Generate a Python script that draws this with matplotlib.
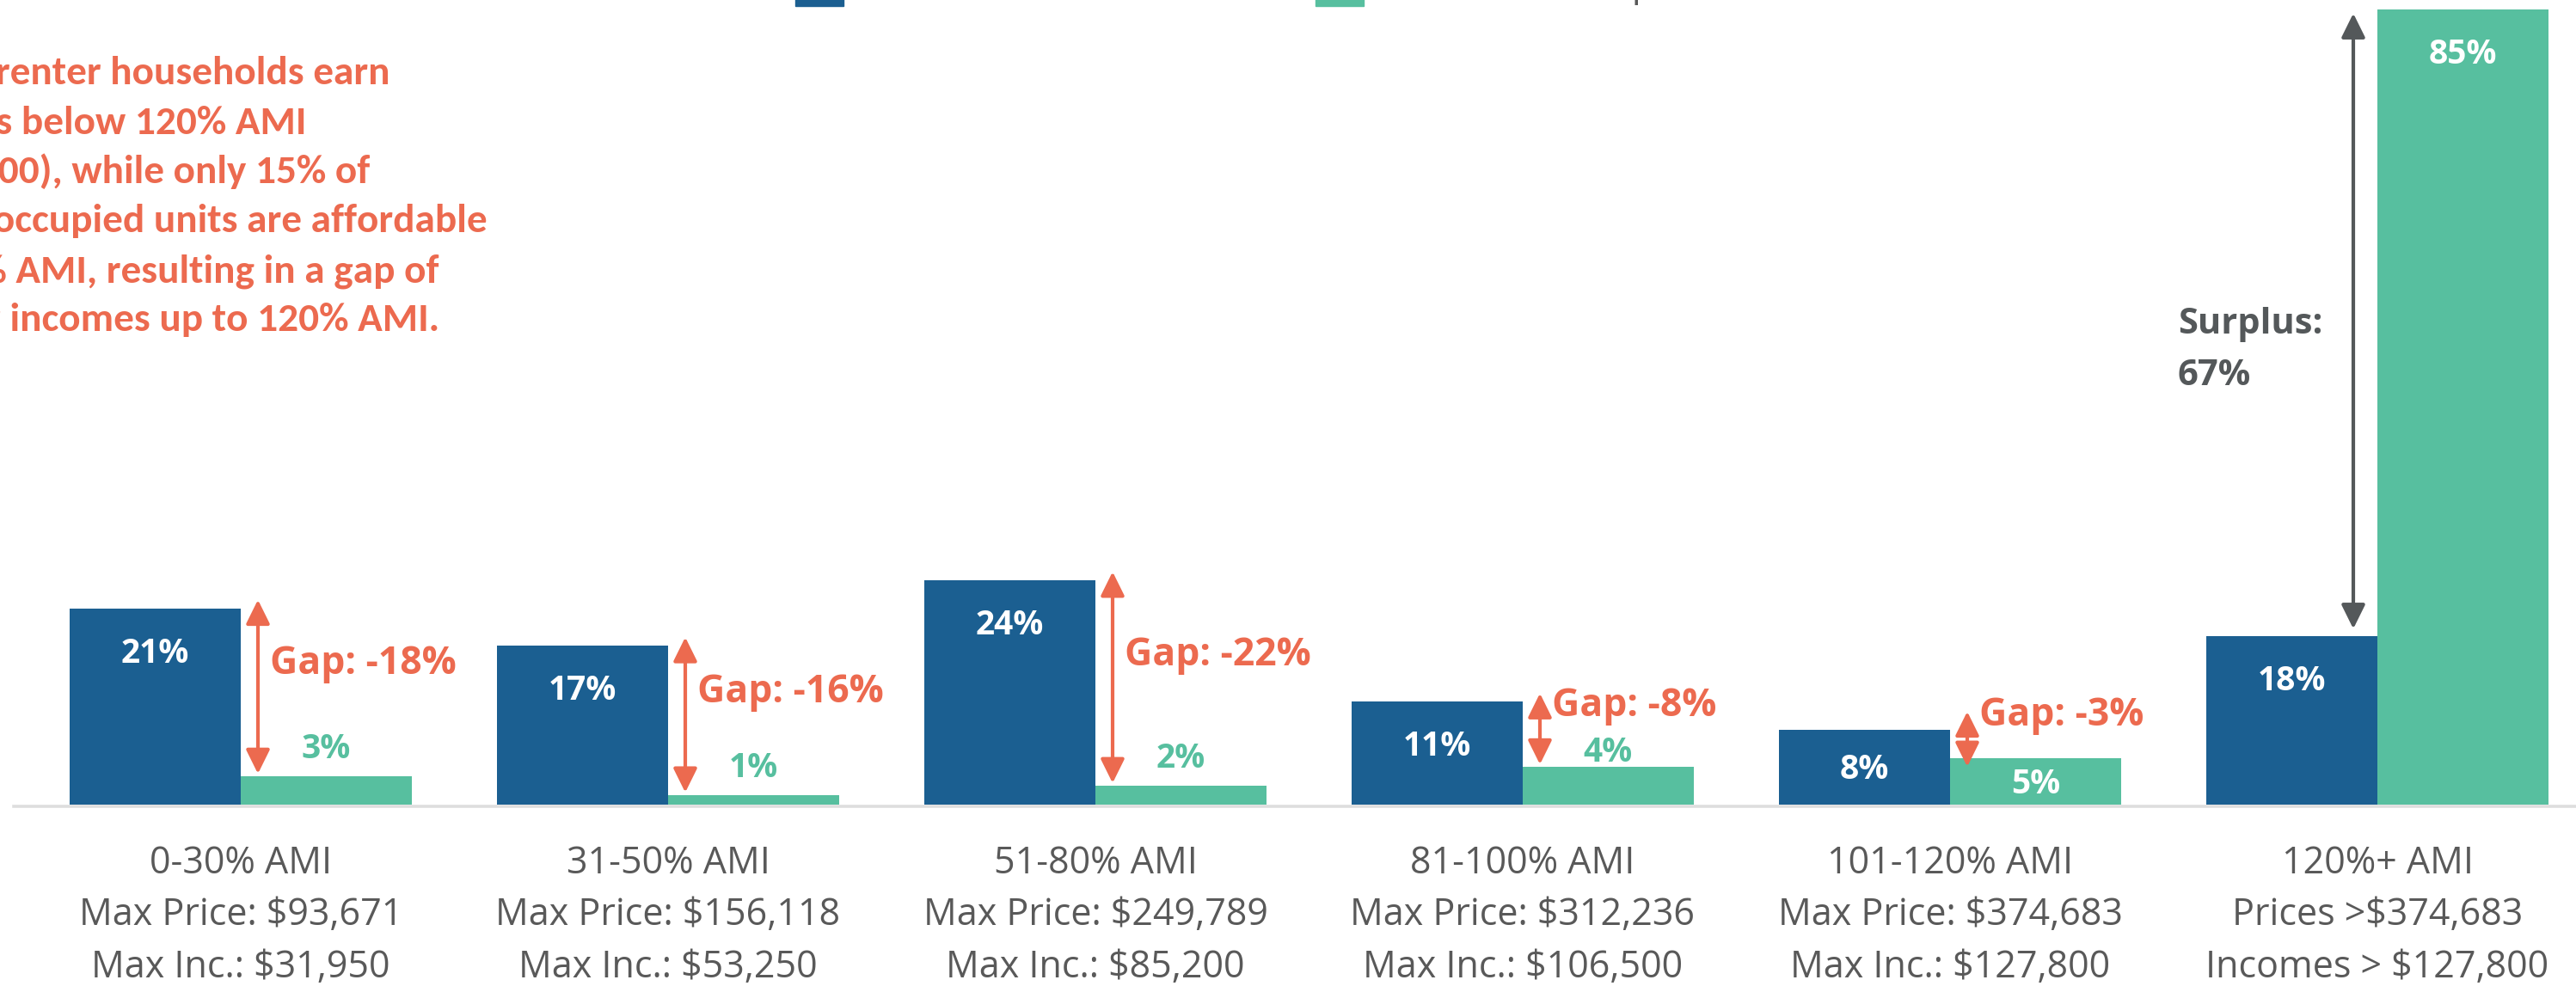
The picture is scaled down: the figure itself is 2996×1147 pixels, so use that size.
import matplotlib
matplotlib.use("Agg")
import matplotlib.pyplot as plt
from matplotlib.patches import Rectangle
import numpy as np

# ---- data ----
categories = ["0-30% AMI", "31-50% AMI", "51-80% AMI", "81-100% AMI", "101-120% AMI", "120%+ AMI"]
price_lines = ["Max Price: $93,671", "Max Price: $156,118", "Max Price: $249,789",
               "Max Price: $312,236", "Max Price: $374,683", "Prices >$374,683"]
income_lines = ["Max Inc.: $31,950", "Max Inc.: $53,250", "Max Inc.: $85,200",
                "Max Inc.: $106,500", "Max Inc.: $127,800", "Incomes > $127,800"]
renters = [21, 17, 24, 11, 8, 18]      # share of renter households
units = [3, 1, 2, 4, 5, 85]            # share of units affordable
gaps = [-18, -16, -22, -8, -3]         # printed gap labels
surplus = 67
legend_labels = ["Renter Households", "Owner-Occupied Units"]
note_lines = ["81% of renter households earn",
              "incomes below 120% AMI",
              "($127,800), while only 15% of",
              "owner-occupied units are affordable",
              "at 120% AMI, resulting in a gap of",
              "66% for incomes up to 120% AMI."]

BLUE = "#1b5f91"
GREEN = "#57bf9f"
CORAL = "#ec6a4f"
GREY = "#595959"
DARK = "#54585a"
FONT = "Open Sans"

W, H = 2996, 1147
fig = plt.figure(figsize=(W / 100, H / 100), dpi=100)
ax = fig.add_axes([0, 0, 1, 1])
ax.axis("off")

# pixel scale of the original layout
PX_X = 497.0   # pixels per category
X0 = 280.0     # pixel x of first category centre
PX_Y = 10.88   # pixels per percent
BASE = 936.0   # pixel row of the zero line
ax.set_xlim(-X0 / PX_X, (W - X0) / PX_X)
ax.set_ylim(-(H - BASE) / PX_Y, BASE / PX_Y)

x = np.arange(len(categories))
bw = 0.4
ax.bar(x - bw / 2, renters, bw, color=BLUE, zorder=2)
ax.bar(x + bw / 2, units, bw, color=GREEN, zorder=2)
ax.plot([-(X0 - 16) / PX_X, (W - X0) / PX_X], [-0.15, -0.15], color="#dedede", lw=2.6, zorder=1)

def inside_y(v):
    return max(v - 49 / PX_Y, v / 2)

def gap_y(i):
    return (renters[i] + units[i]) / 2 + 3.4

# value labels
for i in range(len(categories)):
    ax.annotate(f"{renters[i]}%", (x[i] - bw / 2, inside_y(renters[i])), xytext=(0, -14),
                textcoords="offset pixels", ha="center", va="baseline",
                color="white", fontsize=28, fontweight="bold", family=FONT, zorder=4)
    if units[i] < 5:
        lift = 21
        # keep clear of the gap label above it
        if i < len(gaps) and (gap_y(i) - units[i]) * PX_Y - 16 - 12 < lift + 28:
            lift = 6
        ax.annotate(f"{units[i]}%", (x[i] + bw / 2, units[i]), xytext=(0, lift),
                    textcoords="offset pixels", ha="center", va="baseline",
                    color=GREEN, fontsize=28, fontweight="bold", family=FONT, zorder=4)
    else:
        ax.annotate(f"{units[i]}%", (x[i] + bw / 2, inside_y(units[i])), xytext=(0, -14),
                    textcoords="offset pixels", ha="center", va="baseline",
                    color="white", fontsize=28, fontweight="bold", family=FONT, zorder=4)

    # category labels below the line
    for txt, off in zip([categories[i], price_lines[i], income_lines[i]], [80, 140, 201]):
        ax.annotate(txt, (x[i], 0), xytext=(0, -off), textcoords="offset pixels",
                    ha="center", va="baseline", color=GREY, fontsize=31, family=FONT)

arrow_style = "<|-|>,head_length=0.85,head_width=0.42"

# gap arrows
for i, g in enumerate(gaps):
    top = renters[i] + 0.9
    bot = units[i] + 0.3
    if top - bot < 5.9:
        mid = (renters[i] + units[i]) / 2 + 0.5
        top, bot = mid + 2.95, mid - 2.95
    xa = x[i] + 20 / PX_X
    ax.annotate("", xy=(xa, bot), xytext=(xa, top),
                arrowprops=dict(arrowstyle=arrow_style, mutation_scale=20, color=CORAL,
                                lw=3, shrinkA=0, shrinkB=0), zorder=3)
    ax.annotate(f"Gap: {g}%", (xa, gap_y(i)), xytext=(14, -16),
                textcoords="offset pixels", ha="left", va="baseline",
                color=CORAL, fontsize=32, fontweight="bold", family=FONT)

# surplus arrow
i = len(categories) - 1
xs = x[i] - 28 / PX_X
ax.annotate("", xy=(xs, units[i] - 0.4), xytext=(xs, renters[i] + 0.8),
            arrowprops=dict(arrowstyle=arrow_style, mutation_scale=20, color=DARK,
                            lw=3, shrinkA=0, shrinkB=0), zorder=3)
mid = (renters[i] + units[i]) / 2
ax.annotate("Surplus:", (xs, mid), xytext=(-204, -12), textcoords="offset pixels",
            ha="left", va="baseline", color=DARK, fontsize=30, fontweight="bold", family=FONT)
ax.annotate(f"{surplus}%", (xs, mid), xytext=(-204, -72), textcoords="offset pixels",
            ha="left", va="baseline", color=DARK, fontsize=30, fontweight="bold", family=FONT)

# legend, mostly above the visible area
for (lx, tx), col, lab in zip([(925, 995), (1530, 1648)], [BLUE, GREEN], legend_labels):
    fig.patches.append(Rectangle((lx / W, 1 - 7 / H), 56 / W, 60 / H, color=col,
                                 transform=fig.transFigure, figure=fig))
    fig.text(tx / W, 1 + 5 / H, lab, ha="left", va="baseline", color=GREY,
             fontsize=31, family=FONT)

# note text on the left, partly cut at the edge
for k, line in enumerate(note_lines):
    fig.text(-149 / W, 1 - (98 + 57.5 * k) / H, line, ha="left", va="baseline",
             color=CORAL, fontsize=34, fontweight="bold", family="Carlito")

fig.savefig("out.png", dpi=100)
